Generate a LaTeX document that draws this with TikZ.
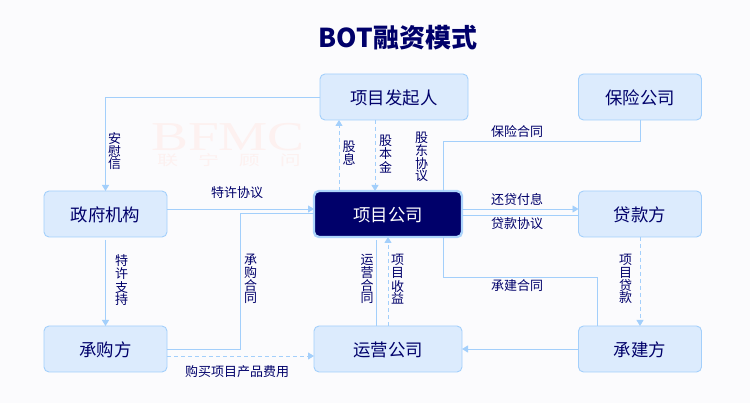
\documentclass[tikz,border=0pt]{standalone}
\usepackage{fontspec}
\setmainfont{Noto Sans CJK SC}
\newfontfamily\wmserif{Liberation Serif}
\usetikzlibrary{arrows.meta}
\definecolor{bgc}{HTML}{FBFBFD}
\definecolor{boxfill}{HTML}{DCEBFD}
\definecolor{linec}{HTML}{A3CFFB}
\definecolor{navy}{HTML}{00006A}
\definecolor{wm}{HTML}{FDF1F0}
\newcommand{\vlab}[1]{\fontsize{13pt}{13.2pt}\selectfont #1}
\tikzset{
  x=1pt,y=-1pt,
  every node/.style={inner sep=0pt,outer sep=0pt},
  boxa/.style={draw=linec,line width=0.9pt,fill=boxfill,rounded corners=5pt,minimum height=46pt,text height=18pt,text depth=3pt,text=navy,font=\fontsize{17.4pt}{19pt}\selectfont},
  wide/.style={boxa,minimum width=148pt},
  narrow/.style={boxa,minimum width=123pt},
  core/.style={wide,fill=navy,text=white,line width=2.4pt,draw=linec!90!white},
  conn/.style={draw=linec,line width=0.9pt},
  dashc/.style={conn,dash pattern=on 4pt off 3pt},
  arr/.style={-{Triangle[length=6pt,width=7pt,fill=linec]}},
  hlab/.style={text=navy,font=\fontsize{13pt}{15pt}\selectfont},
  vl/.style={text=navy,align=center,text width=14pt}
}
\begin{document}
\begin{tikzpicture}
\useasboundingbox (0,0) rectangle (750,403);
\fill[bgc] (0,0) rectangle (750,403);
% watermark
\node[text=wm,xscale=1.35,text height=27pt,text depth=0pt,font=\wmserif\fontsize{41pt}{41pt}\selectfont] (wma) at (228,137) {BFMC};
\node[text=wm,xscale=1.5,text height=11pt,text depth=1pt,font=\fontsize{14pt}{14pt}\selectfont] (wmb) at (229,161) {联\hspace{13.3pt}宁\hspace{13.3pt}顾\hspace{13.3pt}问};
\node[text=navy,font=\bfseries\fontsize{26pt}{28pt}\selectfont] (title) at (398,38) {BOT融资模式};
% boxes
\node[wide] (fqr) at (394,97) {项目发起人};
\node[narrow] (bx) at (640,97) {保险公司};
\node[narrow] (zf) at (105.5,214) {政府机构};
\node[core] (xm) at (388,214) {项目公司};
\node[narrow] (dk) at (640,214) {贷款方};
\node[narrow] (cg) at (105.5,349) {承购方};
\node[wide] (yy) at (388,349) {运营公司};
\node[narrow] (cj) at (640,349) {承建方};
% connectors
\draw[conn,arr] (fqr.west) -| (zf.north);
\draw[dashc,arr] ([xshift=25pt]xm.north west) -- ([xshift=19pt]fqr.south west);
\draw[dashc,arr] ([xshift=55pt]fqr.south west) -- ([xshift=61pt]xm.north west);
\draw[conn] (bx.south) |- ([yshift=50pt,xshift=129pt]xm.north west) -- ([xshift=129pt]xm.north west);
\draw[conn,arr] ([yshift=5pt]xm.east) -- ([yshift=5pt]dk.west);
\draw[conn] ([yshift=-1pt]xm.east) -- ([yshift=-1pt]dk.west);
\draw[conn,arr] ([yshift=5pt]zf.east) -- ([yshift=5pt]xm.west);
\draw[conn] (cg.east) -- (240,349) -- (240,213) -- ([yshift=1pt]xm.west);
\draw[conn,arr] ([yshift=-3pt]zf.south) -- (cg.north);
\draw[dashc,arr] ([yshift=-7pt]cg.east) -- ([yshift=-7pt]yy.west);
\draw[conn] ([xshift=-12pt]yy.north) -- ([xshift=-12pt,yshift=-3pt]xm.south);
\draw[dashc,arr] (yy.north) -- (xm.south);
\draw[conn] ([xshift=129pt]xm.south west) -- ([xshift=129pt,yshift=-40pt]xm.south west) -| ([xshift=19pt]cj.north west);
\draw[dashc,arr] (dk.south) -- (cj.north);
\draw[conn,arr] (cj.west) -- (yy.east);
% labels
\node[vl] (l1) at (114.5,151) {\vlab{安\\慰\\信}};
\node[vl] (l2) at (349,153) {\vlab{股\\息}};
\node[vl] (l3) at (385.5,154) {\vlab{股\\本\\金}};
\node[vl] (l4) at (421.5,157) {\vlab{股\\东\\协\\议}};
\node[hlab] (l5) at (517,131.7) {保险合同};
\node[hlab] (l6) at (517,199.7) {还贷付息};
\node[hlab] (l7) at (517,223.7) {贷款协议};
\node[hlab] (l8) at (237,192.7) {特许协议};
\node[vl] (l9) at (121.5,280) {\vlab{特\\许\\支\\持}};
\node[vl] (l10) at (250.5,279) {\vlab{承\\购\\合\\同}};
\node[vl] (l11) at (367,279) {\vlab{运\\营\\合\\同}};
\node[vl] (l12) at (397.5,279) {\vlab{项\\目\\收\\益}};
\node[hlab] (l13) at (517,285.7) {承建合同};
\node[vl] (l14) at (625.5,279) {\vlab{项\\目\\贷\\款}};
\node[hlab] (l15) at (237,371.7) {购买项目产品费用};
\end{tikzpicture}
\end{document}
